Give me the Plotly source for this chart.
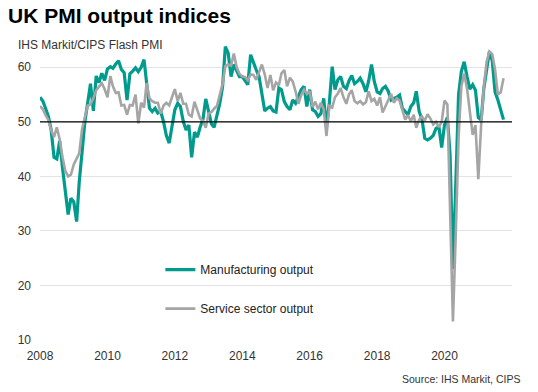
import pandas as pd
import plotly.graph_objects as go

# Monthly index readings, Jan 2008 .. Oct 2021
months = pd.date_range("2008-01-01", "2021-10-01", freq="MS")

manufacturing = [
    # 2008
    54.5, 53.8, 52.5, 51.0, 48.5, 43.5, 43.2, 46.5, 41.5, 37.0, 33.0, 36.0,
    # 2009
    35.3, 31.7, 39.0, 44.5, 50.0, 53.5, 57.0, 52.0, 58.4, 57.2, 58.9, 57.6,
    # 2010
    59.7, 60.1, 59.8, 60.6, 61.2, 59.6, 59.0, 54.0, 58.8, 59.3, 59.9, 59.2,
    # 2011
    60.0, 61.4, 57.4, 52.5, 51.9, 52.5, 51.6, 51.9, 50.0, 47.5, 46.1, 48.8,
    # 2012
    52.2, 53.4, 52.8, 50.1, 48.5, 49.4, 43.5, 48.1, 47.2, 49.0, 50.5, 54.2,
    # 2013
    52.0, 49.6, 49.0, 51.3, 53.3, 56.4, 63.8, 62.6, 58.3, 60.5, 59.5, 58.3,
    # 2014
    58.3, 57.4, 56.8, 62.3, 60.7, 59.5, 58.3, 55.0, 52.0, 52.5, 52.8, 52.0,
    # 2015
    51.8, 56.2, 55.9, 53.7, 52.8, 52.2, 54.0, 53.4, 54.5, 55.9, 56.5, 52.8,
    # 2016
    55.9, 52.2, 51.9, 51.0, 51.5, 54.3, 49.1, 53.5, 60.1, 55.9, 57.7, 58.3,
    # 2017
    56.5, 56.1, 57.5, 58.5, 57.0, 57.4, 58.0, 57.0, 55.5, 57.5, 60.5, 57.4,
    # 2018
    55.5, 55.2, 56.1, 56.5, 55.6, 54.0, 54.3, 54.5, 54.9, 52.5, 51.9, 51.3,
    # 2019
    52.8, 53.5, 55.6, 51.9, 50.5, 47.0, 46.7, 47.0, 47.5, 48.8, 49.1, 45.3,
    # 2020
    49.5, 50.8, 44.0, 23.0, 38.0, 55.0, 59.2, 61.0, 58.3, 56.0, 56.8, 55.8,
    # 2021
    50.8, 50.3, 56.0, 59.2, 62.9, 61.2, 55.5, 54.0, 52.3, 50.4,
]

services = [
    # 2008
    52.9, 52.3, 51.2, 50.3, 48.5, 47.2, 49.0, 46.8, 43.5, 41.0, 40.0, 40.3,
    # 2009
    42.2, 43.3, 44.2, 48.7, 51.0, 53.0, 53.2, 54.3, 55.8, 56.5, 57.1, 56.0,
    # 2010
    54.5, 58.4, 56.5, 55.3, 55.4, 53.0, 53.1, 51.3, 53.1, 53.0, 55.0, 49.7,
    # 2011
    53.5, 52.6, 57.1, 54.3, 53.8, 53.5, 53.5, 51.5, 53.0, 53.5, 53.0, 54.5,
    # 2012
    56.0, 53.8, 55.3, 53.3, 53.3, 51.3, 51.0, 53.7, 52.2, 50.6, 50.2, 48.9,
    # 2013
    51.5, 51.8, 52.4, 52.9, 54.9, 56.9, 60.2, 60.5, 60.3, 62.5, 60.0, 58.8,
    # 2014
    58.3, 58.2, 57.6, 58.7, 58.6, 57.7, 59.1, 60.5, 58.7, 56.2, 58.6, 55.8,
    # 2015
    57.2, 56.7, 58.9, 59.5, 56.5, 58.1, 57.4, 55.6, 53.3, 54.9, 55.9, 55.1,
    # 2016
    55.6, 52.7, 53.7, 52.3, 53.5, 52.3, 47.4, 52.9, 52.6, 54.5, 55.2, 56.2,
    # 2017
    54.5, 53.3, 55.0, 55.8, 53.8, 53.4, 53.8, 53.2, 53.6, 55.6, 53.8, 54.2,
    # 2018
    53.0, 54.5, 51.7, 52.8, 54.0, 55.1, 53.5, 54.3, 53.9, 52.2, 50.4, 51.2,
    # 2019
    50.1, 51.3, 48.9, 50.4, 51.0, 50.2, 51.4, 50.6, 49.5, 50.0, 49.0, 50.0,
    # 2020
    53.9, 53.2, 34.5, 13.4, 29.0, 47.1, 56.5, 58.8, 56.1, 51.4, 47.6, 49.4,
    # 2021
    39.5, 49.5, 56.3, 61.0, 62.9, 62.4, 59.6, 55.0, 55.4, 58.0,
]

series_names = ["Manufacturing output", "Service sector output"]
series_colors = ["#009b8d", "#a5a5a5"]
y_ticks = [10, 20, 30, 40, 50, 60]
x_ticks = ["2008-01-01", "2010-01-01", "2012-01-01", "2014-01-01",
           "2016-01-01", "2018-01-01", "2020-01-01"]
x_labels = ["2008", "2010", "2012", "2014", "2016", "2018", "2020"]

FONT = "Arial, Liberation Sans, sans-serif"

fig = go.Figure()
fig.add_trace(go.Scatter(x=months, y=manufacturing, mode="lines",
                         name=series_names[0], legendgroup="a",
                         line=dict(color=series_colors[0], width=3.2)))
fig.add_trace(go.Scatter(x=months, y=services, mode="lines",
                         name=series_names[1], legendgroup="b",
                         line=dict(color=series_colors[1], width=2.6)))

fig.add_hline(y=50, line=dict(color="black", width=1.3), layer="above")

# The page body carries an 8px default margin, so the figure is sized to fit
# the remaining 530x384 viewport.
fig.update_layout(
    width=530, height=384,
    margin=dict(l=32, r=26, t=32, b=52, autoexpand=False),
    paper_bgcolor="white", plot_bgcolor="white",
    font=dict(family=FONT, size=12, color="#333333"),
    showlegend=True,
    legend=dict(x=0.255, y=0.283, xanchor="left", yanchor="top",
                bgcolor="rgba(0,0,0,0)", tracegroupgap=20,
                font=dict(size=12, color="#222222"), itemwidth=30),
    annotations=[
        dict(text="<b>UK PMI output indices</b>", xref="paper", yref="paper",
             x=-0.072, y=1.08, xanchor="left", yanchor="middle", showarrow=False,
             font=dict(size=21, color="black", family=FONT)),
        dict(text="IHS Markit/CIPS Flash PMI", xref="paper", yref="paper",
             x=-0.05, y=0.983, xanchor="left", yanchor="middle", showarrow=False,
             font=dict(size=12, color="#333333", family=FONT)),
        dict(text="Source: IHS Markit, CIPS", xref="paper", yref="paper",
             x=1.022, y=-0.13, xanchor="right", yanchor="middle", showarrow=False,
             font=dict(size=10.5, color="#333333", family=FONT)),
    ],
)

fig.update_xaxes(type="date", range=["2008-01-01", "2022-01-01"],
                 tickvals=x_ticks, ticktext=x_labels, automargin=False,
                 showgrid=False, showline=False, zeroline=False, ticks="",
                 ticklabelstandoff=7, tickfont=dict(size=12, color="#333333"))
fig.update_yaxes(range=[10, 65], tickvals=y_ticks, showgrid=True, automargin=False,
                 gridcolor="#e3e3e3", gridwidth=1, zeroline=False, showline=False,
                 ticks="", ticklabelstandoff=8, tickfont=dict(size=12, color="#333333"))

fig.write_html("out.html")
